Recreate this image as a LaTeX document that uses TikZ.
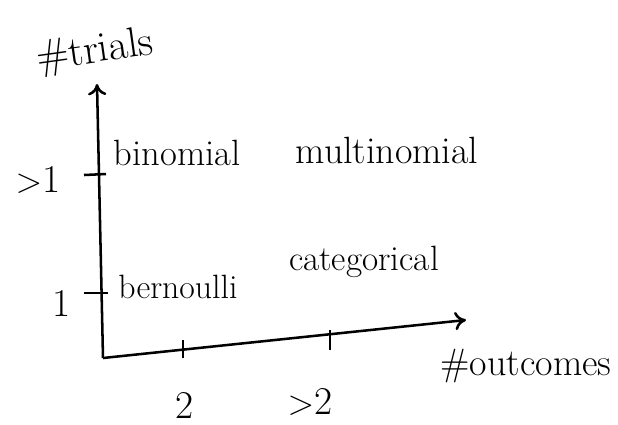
\documentclass[tikz,border=0pt]{standalone}
\usetikzlibrary{arrows.meta}
\begin{document}
\begin{tikzpicture}[x=0.025cm,y=-0.025cm,
  axis/.style={line width=1.8pt,-{To[length=8pt,width=13pt]}},
  tick/.style={line width=1.8pt},
  lbl/.style={font=\fontsize{28}{32}\selectfont},
  dist/.style={font=\fontsize{25}{28}\selectfont}]
  \useasboundingbox (0,0) rectangle (618,424);
  % axes
  \coordinate (o) at (103,358);
  \coordinate (ytop) at (97,84);
  \coordinate (xend) at (466,320);
  \draw[axis] (o) -- (ytop);
  \draw[axis] (o) -- (xend);
  % ticks
  \coordinate (y1a) at (84,175);
  \coordinate (y1b) at (106,174);
  \coordinate (y2a) at (84,293);
  \coordinate (y2b) at (108,293);
  \coordinate (x1a) at (183,340);
  \coordinate (x1b) at (183,358);
  \coordinate (x2a) at (330,330);
  \coordinate (x2b) at (330,350);
  \draw[tick] (y1a) -- (y1b);
  \draw[tick] (y2a) -- (y2b);
  \draw[tick] (x1a) -- (x1b);
  \draw[tick] (x2a) -- (x2b);
  % axis labels
  \node[lbl,rotate=8,font=\fontsize{30}{34}\selectfont] (trials) at (95,52) {\#trials};
  \node[lbl,font=\fontsize{27}{30}\selectfont] (outcomes) at (526,366) {\#outcomes};
  \node[lbl] (ymany) at (38,180) {$>$1};
  \node[lbl] (yone) at (62,303) {1};
  \node[lbl] (xtwo) at (185,405) {2};
  \node[lbl] (xmany) at (310,402) {$>$2};
  % distributions
  \node[dist,font=\fontsize{26}{29}\selectfont] (binomial) at (177,153) {binomial};
  \node[dist,font=\fontsize{27}{30}\selectfont] (multinomial) at (387,150) {multinomial};
  \node[dist,font=\fontsize{24}{27}\selectfont] (bernoulli) at (178,287) {bernoulli};
  \node[dist] (categorical) at (364,262) {categorical};
\end{tikzpicture}
\end{document}
